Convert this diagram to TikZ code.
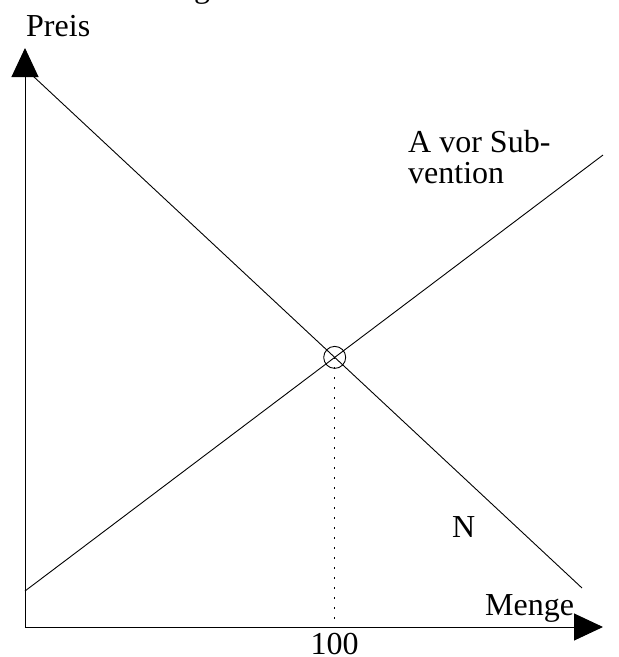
\documentclass[tikz,border=0pt]{standalone}
\usepackage{fontspec}
\setmainfont{Liberation Serif}
\usepackage{tikz}
\usetikzlibrary{arrows.meta,calc,positioning}
\tikzset{
  axis/.style={line width=1pt,-{Triangle[length=29pt,width=27pt]}},
  curve/.style={line width=0.9pt},
  lbl/.style={font=\fontsize{32}{31}\selectfont,inner sep=0pt},
  eqmark/.style={draw,line width=0.9pt,circle,minimum size=22pt,inner sep=0pt},
  guide/.style={line width=0.9pt,dash pattern=on 2pt off 8pt},
}
\begin{document}
\begin{tikzpicture}[x=1pt,y=-1pt]
  \useasboundingbox (0,0) rectangle (619,657);
  \clip (0,0) rectangle (619,657);
  \node[lbl,anchor=south] (title) at (202,5) {g};
  \coordinate (O) at (25,627);
  \coordinate (ytip) at (25,48);
  \coordinate (xtip) at (603,627);
  \draw[axis] (O) -- (ytip);
  \draw[axis] (O) -- (xtip);
  \node[lbl,anchor=base west] (preis) at (26,36) {Preis};
  \node[lbl,anchor=base west] (menge) at (485,615) {Menge};
  \coordinate (n1) at (33,76);
  \coordinate (n2) at (582,588);
  \coordinate (a1) at (25,591);
  \coordinate (a2) at (603,155);
  \draw[curve] (n1) -- (n2);
  \draw[curve] (a1) -- (a2);
  \node[eqmark] (gg) at (intersection of n1--n2 and a1--a2) {};
  \coordinate (gx) at (gg.center |- O);
  \draw[guide] (gg.center) -- (gx);
  \node[lbl,anchor=base] (hundert) at ([yshift=-27pt]gx) {100};
  \node[lbl,anchor=base west,align=left] (angebot) at (408,183) {A vor Sub-\\vention};
  \node[lbl,anchor=base west] (nachfrage) at (452,537) {N};
\end{tikzpicture}
\end{document}
